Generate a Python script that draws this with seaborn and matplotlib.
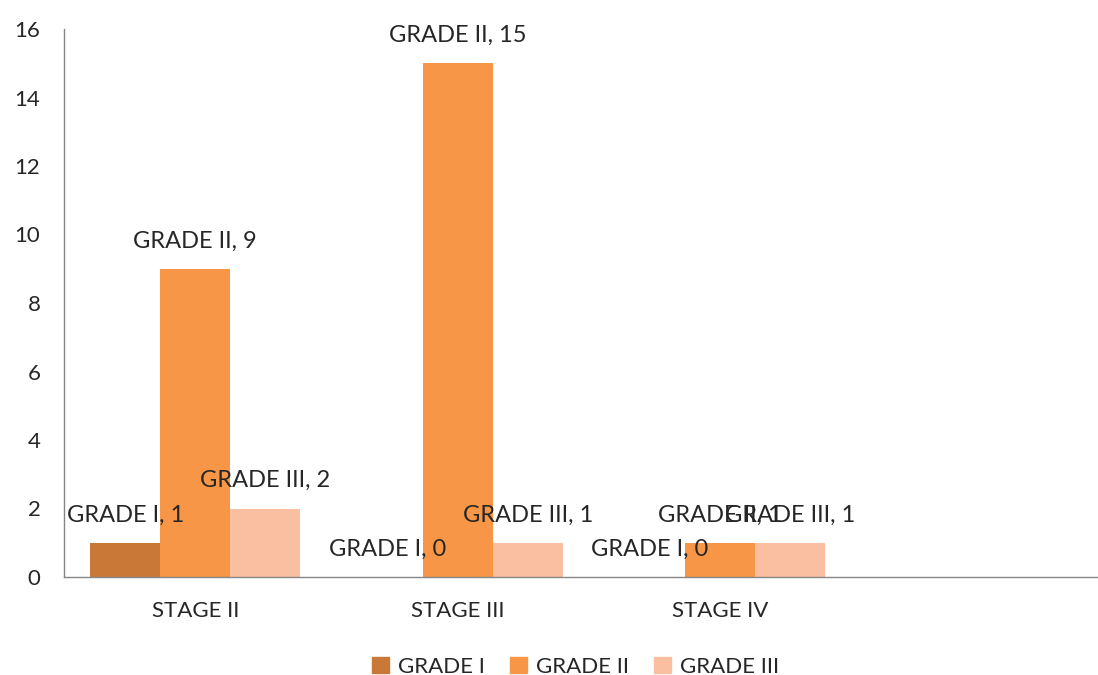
import numpy as np
import pandas as pd
import matplotlib
matplotlib.use('Agg')
import matplotlib.pyplot as plt
import seaborn as sns

# data
stages = ['STAGE II', 'STAGE III', 'STAGE IV']
grades = ['GRADE I', 'GRADE II', 'GRADE III']
grade_i = [1, 0, 0]
grade_ii = [9, 15, 1]
grade_iii = [2, 1, 1]
colors = ['#C97838', '#F79646', '#F9BFA0']

rows = []
for g, vals in zip(grades, [grade_i, grade_ii, grade_iii]):
    for s, v in zip(stages, vals):
        rows.append({'stage': s, 'grade': g, 'count': v})
df = pd.DataFrame(rows)

sns.set_style('white')
plt.rcParams['font.family'] = ['Lato', 'DejaVu Sans']

fig = plt.figure(figsize=(10.98, 6.75), dpi=100)
ax = fig.add_axes([64 / 1098, 98 / 675, 1 - 64 / 1098, 548 / 675])

order = stages + ['']
sns.barplot(data=df, x='stage', y='count', hue='grade', order=order,
            hue_order=grades, palette=colors, width=0.8, saturation=1,
            linewidth=0, ax=ax, errorbar=None)

# data labels "SERIES, value" above every bar
for cont, g in zip(ax.containers, grades):
    for bar, v in zip(cont, df[df.grade == g]['count']):
        x = bar.get_x() + bar.get_width() / 2
        ax.annotate(f'{g}, {v}', (x, bar.get_height()), xytext=(0, 20),
                    textcoords='offset points', ha='center', va='center',
                    fontsize=17, color='#262626')

ax.set_ylim(0, 16)
ax.set_yticks(np.arange(0, 17, 2))
ax.set_xlim(-0.5, 3.44)
ax.set_xlabel('')
ax.set_ylabel('')
ax.tick_params(axis='both', length=0, labelsize=16, colors='#262626')
ax.tick_params(axis='x', pad=17)
ax.tick_params(axis='y', pad=17)
for side in ['top', 'right']:
    ax.spines[side].set_visible(False)
for side in ['left', 'bottom']:
    ax.spines[side].set_color('#868686')
    ax.spines[side].set_linewidth(1)

ax.legend_.remove()
handles = [plt.Rectangle((0, 0), 1, 1, color=c) for c in colors]
fig.legend(handles, grades, loc='center', bbox_to_anchor=(0.524, 0.012),
           ncol=3, frameon=False, fontsize=16, handlelength=0.75,
           handleheight=0.75, handletextpad=0.4, columnspacing=1.15,
           labelcolor='#262626')

fig.savefig('out.png', dpi=100)
